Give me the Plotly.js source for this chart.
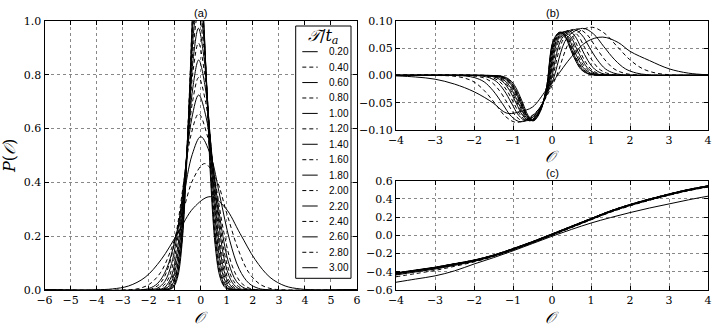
<!DOCTYPE html>
<html><head><meta charset="utf-8">
<script src="https://cdn.plot.ly/plotly-3.0.1.min.js"></script>
<style>html,body{margin:0;padding:0;background:#fff}#chart{width:720px;height:330px}</style>
</head><body><div id="chart"></div>
<script>
// ---- legend labels (T / t_a) ----
const tLabels = ['0.20','0.40','0.60','0.80','1.00','1.20','1.40','1.60','1.80','2.00','2.20','2.40','2.60','2.80','3.00'];

// ---- panel (a): P(O) ----
const aX_020=[-6,-4.02,-3.39,-2.77,-2.14,-1.52,-0.89,-0.27,0.36,0.94,1.51,2.09,2.66,3.24,3.81,4.39,6];
const aY_020=[0,0.001,0.004,0.015,0.047,0.113,0.210,0.306,0.347,0.306,0.210,0.113,0.047,0.015,0.004,0.001,0];
const aX_040=[-6,-2.83,-2.40,-1.98,-1.55,-1.13,-0.70,-0.28,0.15,0.58,1.00,1.43,1.85,2.28,2.70,3.13,6];
const aY_040=[0,0.001,0.005,0.021,0.064,0.153,0.285,0.415,0.470,0.415,0.285,0.153,0.064,0.021,0.005,0.001,0];
const aX_060=[-6,-2.31,-1.98,-1.65,-1.32,-0.99,-0.66,-0.33,0,0.37,0.74,1.11,1.48,1.85,2.22,2.59,6];
const aY_060=[0,0.001,0.006,0.025,0.077,0.185,0.346,0.503,0.570,0.503,0.346,0.185,0.077,0.025,0.006,0.001,0];
const aX_080=[-6,-2.09,-1.81,-1.52,-1.23,-0.94,-0.66,-0.37,-0.08,0.24,0.57,0.89,1.21,1.53,1.86,2.18,6];
const aY_080=[0,0.001,0.007,0.029,0.089,0.213,0.397,0.578,0.655,0.578,0.397,0.213,0.089,0.029,0.007,0.001,0];
const aX_100=[-6,-1.90,-1.64,-1.38,-1.12,-0.86,-0.60,-0.34,-0.08,0.21,0.50,0.79,1.08,1.37,1.66,1.95,6];
const aY_100=[0,0.002,0.008,0.032,0.098,0.235,0.440,0.640,0.725,0.640,0.440,0.235,0.098,0.032,0.008,0.002,0];
const aX_120=[-6,-1.76,-1.52,-1.28,-1.04,-0.80,-0.56,-0.32,-0.08,0.19,0.45,0.72,0.98,1.25,1.51,1.78,6];
const aY_120=[0,0.002,0.009,0.035,0.107,0.257,0.479,0.697,0.790,0.697,0.479,0.257,0.107,0.035,0.009,0.002,0];
const aX_140=[-6,-1.62,-1.40,-1.18,-0.96,-0.74,-0.52,-0.30,-0.08,0.17,0.41,0.66,0.90,1.15,1.39,1.64,6];
const aY_140=[0,0.002,0.009,0.038,0.116,0.278,0.519,0.755,0.855,0.755,0.519,0.278,0.116,0.038,0.009,0.002,0];
const aX_160=[-6,-1.53,-1.32,-1.12,-0.91,-0.71,-0.50,-0.30,-0.09,0.14,0.37,0.60,0.83,1.06,1.29,1.52,6];
const aY_160=[0,0.002,0.010,0.040,0.124,0.298,0.557,0.810,0.918,0.810,0.557,0.298,0.124,0.040,0.010,0.002,0];
const aX_180=[-6,-1.46,-1.26,-1.07,-0.87,-0.68,-0.48,-0.29,-0.09,0.13,0.34,0.56,0.77,0.99,1.20,1.42,6];
const aY_180=[0,0.002,0.011,0.043,0.132,0.316,0.590,0.859,0.973,0.859,0.590,0.316,0.132,0.043,0.011,0.002,0];
const aX_200=[-6,-1.38,-1.20,-1.01,-0.83,-0.65,-0.47,-0.28,-0.10,0.11,0.31,0.52,0.72,0.93,1.13,1.34,6];
const aY_200=[0,0.002,0.011,0.045,0.139,0.334,0.625,0.909,1.030,0.909,0.625,0.334,0.139,0.045,0.011,0.002,0];
const aX_220=[-6,-1.33,-1.15,-0.98,-0.80,-0.63,-0.45,-0.28,-0.10,0.10,0.29,0.49,0.68,0.88,1.07,1.27,6];
const aY_220=[0,0.002,0.012,0.047,0.146,0.351,0.655,0.953,1.080,0.953,0.655,0.351,0.146,0.047,0.012,0.002,0];
const aX_240=[-6,-1.28,-1.12,-0.95,-0.78,-0.61,-0.45,-0.28,-0.11,0.08,0.26,0.45,0.63,0.82,1.00,1.19,6];
const aY_240=[0,0.002,0.013,0.050,0.153,0.367,0.685,0.997,1.130,0.997,0.685,0.367,0.153,0.050,0.013,0.002,0];
const aX_260=[-6,-1.23,-1.07,-0.91,-0.75,-0.59,-0.43,-0.27,-0.11,0.07,0.25,0.42,0.60,0.78,0.96,1.13,6];
const aY_260=[0,0.003,0.013,0.052,0.160,0.383,0.716,1.041,1.180,1.041,0.716,0.383,0.160,0.052,0.013,0.003,0];
const aX_280=[-6,-1.21,-1.05,-0.90,-0.74,-0.59,-0.43,-0.28,-0.12,0.05,0.23,0.40,0.57,0.74,0.92,1.09,6];
const aY_280=[0,0.003,0.014,0.054,0.165,0.396,0.740,1.077,1.220,1.077,0.740,0.396,0.165,0.054,0.014,0.003,0];
const aX_300=[-6,-1.17,-1.02,-0.87,-0.72,-0.57,-0.42,-0.27,-0.12,0.05,0.22,0.38,0.55,0.72,0.89,1.05,6];
const aY_300=[0,0.003,0.014,0.055,0.170,0.409,0.764,1.112,1.260,1.112,0.764,0.409,0.170,0.055,0.014,0.003,0];

// ---- panel (b) ----
const bX_020=[-4,-3.5,-3,-2.5,-2,-1.5,-1.25,-1.1,-0.8,-0.5,-0.15,0.1,0.5,0.9,1.3,1.7,2.0,2.5,3.0,3.5,4];
const bY_020=[-0.001,-0.003,-0.007,-0.016,-0.030,-0.051,-0.066,-0.070,-0.066,-0.058,-0.027,-0.004,0.034,0.062,0.070,0.060,0.044,0.027,0.012,0.004,0.001];
const bX_040=[-4,-2.83,-2.55,-2.28,-2.00,-1.73,-1.45,-1.18,-0.90,-0.43,0.05,0.53,1.00,1.33,1.66,1.99,2.32,2.65,2.98,3.31,4];
const bY_040=[0,-0.0004,-0.0013,-0.0043,-0.012,-0.0284,-0.0525,-0.0761,-0.086,-0.0688,-0.012,0.0704,0.088,0.0779,0.0537,0.029,0.0123,0.0044,0.0013,0.0004,0];
const bX_060=[-4,-2.45,-2.21,-1.98,-1.74,-1.51,-1.27,-1.04,-0.80,-0.41,-0.01,0.39,0.78,1.06,1.33,1.61,1.88,2.16,2.43,2.71,4];
const bY_060=[0,-0.0004,-0.0013,-0.0043,-0.0119,-0.0281,-0.0519,-0.0752,-0.085,-0.068,-0.015,0.0688,0.086,0.0761,0.0525,0.0284,0.012,0.0043,0.0013,0.0004,0];
const bX_080=[-4,-2.19,-1.98,-1.77,-1.56,-1.35,-1.14,-0.93,-0.72,-0.38,-0.04,0.31,0.65,0.89,1.12,1.36,1.59,1.83,2.06,2.30,4];
const bY_080=[0,-0.0004,-0.0013,-0.0042,-0.0118,-0.0277,-0.0512,-0.0743,-0.084,-0.0672,-0.016,0.068,0.085,0.0752,0.0519,0.0281,0.0119,0.0043,0.0013,0.0004,0];
const bX_100=[-4,-1.99,-1.80,-1.61,-1.42,-1.23,-1.04,-0.85,-0.66,-0.36,-0.06,0.25,0.55,0.76,0.96,1.17,1.37,1.58,1.78,1.99,4];
const bY_100=[0,-0.0004,-0.0012,-0.0042,-0.0116,-0.0274,-0.0506,-0.0735,-0.083,-0.0664,-0.017,0.0672,0.084,0.0743,0.0512,0.0277,0.0118,0.0042,0.0013,0.0004,0];
const bX_120=[-4,-1.88,-1.70,-1.52,-1.34,-1.16,-0.98,-0.80,-0.62,-0.35,-0.08,0.20,0.47,0.66,0.84,1.03,1.21,1.40,1.58,1.77,4];
const bY_120=[0,-0.0004,-0.0012,-0.0042,-0.0116,-0.0274,-0.0506,-0.0735,-0.083,-0.0664,-0.018,0.0664,0.083,0.0735,0.0506,0.0274,0.0116,0.0042,0.0012,0.0004,0];
const bX_140=[-4,-1.77,-1.60,-1.43,-1.26,-1.09,-0.92,-0.75,-0.58,-0.33,-0.09,0.16,0.41,0.58,0.75,0.92,1.09,1.26,1.43,1.60,4];
const bY_140=[0,-0.0004,-0.0012,-0.0042,-0.0116,-0.0274,-0.0506,-0.0735,-0.083,-0.0664,-0.019,0.0656,0.082,0.0726,0.050,0.0271,0.0115,0.0041,0.0012,0.0004,0];
const bX_160=[-4,-1.72,-1.55,-1.39,-1.22,-1.06,-0.89,-0.73,-0.56,-0.33,-0.10,0.13,0.36,0.52,0.68,0.84,1.00,1.16,1.32,1.48,4];
const bY_160=[0,-0.0004,-0.0012,-0.0042,-0.0116,-0.0274,-0.0506,-0.0735,-0.083,-0.0664,-0.020,0.0648,0.081,0.0717,0.0494,0.0267,0.0113,0.0041,0.0012,0.0004,0];
const bX_180=[-4,-1.66,-1.50,-1.34,-1.18,-1.02,-0.86,-0.70,-0.54,-0.33,-0.11,0.11,0.32,0.48,0.63,0.79,0.94,1.10,1.25,1.41,4];
const bY_180=[0,-0.0004,-0.0012,-0.0042,-0.0116,-0.0274,-0.0506,-0.0735,-0.083,-0.0664,-0.020,0.064,0.080,0.0708,0.0488,0.0264,0.0112,0.004,0.0012,0.0004,0];
const bX_200=[-4,-1.61,-1.45,-1.30,-1.14,-0.99,-0.83,-0.68,-0.52,-0.32,-0.12,0.09,0.29,0.44,0.59,0.74,0.89,1.04,1.19,1.34,4];
const bY_200=[0,-0.0004,-0.0012,-0.0042,-0.0116,-0.0274,-0.0506,-0.0735,-0.083,-0.0664,-0.021,0.064,0.080,0.0708,0.0488,0.0264,0.0112,0.004,0.0012,0.0004,0];
const bX_220=[-4,-1.56,-1.41,-1.26,-1.11,-0.96,-0.81,-0.66,-0.51,-0.32,-0.13,0.07,0.26,0.41,0.55,0.70,0.84,0.99,1.13,1.28,4];
const bY_220=[0,-0.0004,-0.0012,-0.0042,-0.0116,-0.0274,-0.0506,-0.0735,-0.083,-0.0664,-0.021,0.0632,0.079,0.0699,0.0482,0.0261,0.0111,0.004,0.0012,0.0004,0];
const bX_240=[-4,-1.55,-1.40,-1.25,-1.10,-0.95,-0.80,-0.65,-0.50,-0.32,-0.13,0.06,0.24,0.38,0.52,0.66,0.80,0.94,1.08,1.22,4];
const bY_240=[0,-0.0004,-0.0012,-0.0042,-0.0116,-0.0274,-0.0506,-0.0735,-0.083,-0.0664,-0.022,0.0632,0.079,0.0699,0.0482,0.0261,0.0111,0.004,0.0012,0.0004,0];
const bX_260=[-4,-1.51,-1.36,-1.22,-1.07,-0.93,-0.78,-0.64,-0.49,-0.31,-0.14,0.04,0.22,0.36,0.50,0.64,0.78,0.92,1.06,1.20,4];
const bY_260=[0,-0.0004,-0.0012,-0.0042,-0.0116,-0.0274,-0.0506,-0.0735,-0.083,-0.0664,-0.022,0.0632,0.079,0.0699,0.0482,0.0261,0.0111,0.004,0.0012,0.0004,0];
const bX_280=[-4,-1.50,-1.35,-1.21,-1.06,-0.92,-0.77,-0.63,-0.48,-0.31,-0.14,0.04,0.21,0.35,0.48,0.62,0.75,0.89,1.02,1.16,4];
const bY_280=[0,-0.0004,-0.0012,-0.0042,-0.0116,-0.0274,-0.0506,-0.0735,-0.083,-0.0664,-0.022,0.0632,0.079,0.0699,0.0482,0.0261,0.0111,0.004,0.0012,0.0004,0];
const bX_300=[-4,-1.45,-1.31,-1.17,-1.03,-0.89,-0.75,-0.61,-0.47,-0.30,-0.14,0.03,0.20,0.34,0.47,0.61,0.74,0.88,1.01,1.15,4];
const bY_300=[0,-0.0004,-0.0012,-0.0042,-0.0116,-0.0274,-0.0506,-0.0735,-0.083,-0.0664,-0.022,0.0632,0.079,0.0699,0.0482,0.0261,0.0111,0.004,0.0012,0.0004,0];

// ---- panel (c) ----
const cX=[-4,-3.5,-3,-2.5,-2,-1.5,-1,-0.5,0,0.5,1,1.5,2,2.5,3,3.5,4];
const cY_020=[-0.515,-0.480,-0.445,-0.390,-0.315,-0.245,-0.170,-0.090,-0.010,0.065,0.135,0.195,0.250,0.300,0.345,0.390,0.430];
const cY_040=[-0.455,-0.420,-0.385,-0.340,-0.292,-0.232,-0.160,-0.082,0.000,0.085,0.170,0.253,0.323,0.385,0.440,0.490,0.530];
const cY_060=[-0.435,-0.402,-0.370,-0.330,-0.286,-0.229,-0.158,-0.080,0.003,0.088,0.173,0.257,0.328,0.388,0.443,0.493,0.533];
const cY_080=[-0.427,-0.396,-0.365,-0.325,-0.283,-0.227,-0.156,-0.079,0.005,0.090,0.175,0.259,0.329,0.389,0.444,0.494,0.534];
const cY_100=[-0.424,-0.393,-0.362,-0.322,-0.281,-0.226,-0.155,-0.078,0.006,0.091,0.176,0.260,0.330,0.390,0.445,0.495,0.535];
const cY_120=[-0.422,-0.391,-0.360,-0.320,-0.280,-0.225,-0.154,-0.077,0.007,0.092,0.177,0.261,0.331,0.391,0.446,0.496,0.536];
const cY_140=[-0.420,-0.389,-0.358,-0.319,-0.279,-0.224,-0.153,-0.076,0.008,0.093,0.178,0.262,0.332,0.392,0.447,0.497,0.537];
const cY_160=[-0.419,-0.388,-0.357,-0.318,-0.278,-0.223,-0.152,-0.075,0.009,0.094,0.179,0.263,0.333,0.393,0.448,0.498,0.538];
const cY_180=[-0.418,-0.387,-0.356,-0.317,-0.277,-0.222,-0.151,-0.074,0.010,0.095,0.180,0.264,0.334,0.394,0.449,0.499,0.539];
const cY_200=[-0.417,-0.386,-0.355,-0.316,-0.276,-0.221,-0.150,-0.073,0.011,0.096,0.181,0.265,0.335,0.395,0.450,0.500,0.540];
const cY_220=[-0.416,-0.385,-0.354,-0.315,-0.275,-0.220,-0.149,-0.072,0.012,0.097,0.182,0.266,0.336,0.396,0.451,0.501,0.541];
const cY_240=[-0.415,-0.384,-0.353,-0.314,-0.274,-0.219,-0.148,-0.071,0.013,0.098,0.183,0.267,0.337,0.397,0.452,0.502,0.542];
const cY_260=[-0.414,-0.383,-0.352,-0.313,-0.273,-0.218,-0.147,-0.070,0.014,0.099,0.184,0.268,0.338,0.398,0.453,0.503,0.543];
const cY_280=[-0.413,-0.382,-0.351,-0.312,-0.272,-0.217,-0.146,-0.069,0.015,0.100,0.185,0.269,0.339,0.399,0.454,0.504,0.544];
const cY_300=[-0.412,-0.381,-0.350,-0.311,-0.271,-0.216,-0.145,-0.068,0.016,0.101,0.185,0.269,0.339,0.399,0.454,0.504,0.544];

const aXs=[aX_020,aX_040,aX_060,aX_080,aX_100,aX_120,aX_140,aX_160,aX_180,aX_200,aX_220,aX_240,aX_260,aX_280,aX_300];
const aYs=[aY_020,aY_040,aY_060,aY_080,aY_100,aY_120,aY_140,aY_160,aY_180,aY_200,aY_220,aY_240,aY_260,aY_280,aY_300];
const bXs=[bX_020,bX_040,bX_060,bX_080,bX_100,bX_120,bX_140,bX_160,bX_180,bX_200,bX_220,bX_240,bX_260,bX_280,bX_300];
const bYs=[bY_020,bY_040,bY_060,bY_080,bY_100,bY_120,bY_140,bY_160,bY_180,bY_200,bY_220,bY_240,bY_260,bY_280,bY_300];
const cYs=[cY_020,cY_040,cY_060,cY_080,cY_100,cY_120,cY_140,cY_160,cY_180,cY_200,cY_220,cY_240,cY_260,cY_280,cY_300];

const W=720,H=330;
const px=v=>v/W, py=v=>1-v/H;
const DASH='4px,3px';
const dashOf=i=>(i%2===1?DASH:'solid');

const traces=[];
tLabels.forEach((lab,i)=>{
  const line={color:'#000',width:1,dash:dashOf(i),shape:'spline',smoothing:1};
  traces.push({x:aXs[i],y:aYs[i],xaxis:'x',yaxis:'y',mode:'lines',name:lab,line:line,showlegend:false,hoverinfo:'skip'});
  traces.push({x:bXs[i],y:bYs[i],xaxis:'x2',yaxis:'y2',mode:'lines',name:lab,line:line,showlegend:false,hoverinfo:'skip'});
  traces.push({x:cX,y:cYs[i],xaxis:'x3',yaxis:'y3',mode:'lines',name:lab,line:line,showlegend:false,hoverinfo:'skip'});
});

const serif='DejaVu Serif';
const sans='Liberation Sans';
const ax={showline:true,linecolor:'#000',linewidth:1,mirror:'ticks',ticks:'inside',ticklen:4,tickcolor:'#000',
  showgrid:true,gridcolor:'#888',griddash:'dot',gridwidth:1,zeroline:false,
  tickfont:{family:serif,size:11,color:'#000'}};

const layout={
  width:W,height:H,autosize:false,margin:{l:0,r:0,t:0,b:0},
  paper_bgcolor:'#fff',plot_bgcolor:'#fff',showlegend:false,
  xaxis:Object.assign({},ax,{domain:[px(44.5),px(357)],range:[-6,6],dtick:1,tick0:0,anchor:'y'}),
  yaxis:Object.assign({},ax,{domain:[py(290),py(21)],range:[0,1],dtick:0.2,tick0:0,tickformat:'.1f',anchor:'x',
    title:{text:'<i>P</i>(<i>𝒪</i>)',font:{family:serif,size:16,color:'#000'},standoff:6}}),
  xaxis2:Object.assign({},ax,{domain:[px(396),px(708)],range:[-4,4],dtick:1,tick0:0,anchor:'y2'}),
  yaxis2:Object.assign({},ax,{domain:[py(130),py(20.7)],range:[-0.1,0.1],dtick:0.05,tick0:0,tickformat:'.2f',anchor:'x2'}),
  xaxis3:Object.assign({},ax,{domain:[px(396),px(708)],range:[-4,4],dtick:1,tick0:0,anchor:'y3'}),
  yaxis3:Object.assign({},ax,{domain:[py(290),py(180.7)],range:[-0.6,0.6],dtick:0.2,tick0:0,tickformat:'.1f',anchor:'x3'}),
  shapes:[],annotations:[]
};

// x-axis titles (placed as annotations for exact positioning, top-anchored below tick labels)
[[200.7,307],[552,146],[552,307]].forEach(([x,y])=>{
  layout.annotations.push({text:'<i>𝒪</i>',xref:'paper',yref:'paper',x:px(x),y:py(y),xanchor:'center',yanchor:'top',
    borderpad:0,showarrow:false,font:{family:serif,size:16,color:'#000'}});
});

// panel titles
[['(a)',200.7,13],['(b)',552,13],['(c)',552,173]].forEach(([t,x,y])=>{
  layout.annotations.push({text:t,xref:'paper',yref:'paper',x:px(x),y:py(y),xanchor:'center',yanchor:'middle',
    showarrow:false,font:{family:sans,size:11,color:'#000'}});
});

// custom legend (inside panel a)
layout.shapes.push({type:'rect',xref:'paper',yref:'paper',x0:px(295.7),x1:px(351),y0:py(278.3),y1:py(26),
  line:{color:'#000',width:1},fillcolor:'#fff',layer:'above'});
layout.annotations.push({text:'<i>𝒯</i>/<i>t</i><sub><i>a</i></sub>',xref:'paper',yref:'paper',x:px(323),y:py(36),
  xanchor:'center',yanchor:'middle',showarrow:false,font:{family:serif,size:16,color:'#000'}});
tLabels.forEach((lab,i)=>{
  const yy=51.7+i*15.43;
  layout.shapes.push({type:'line',xref:'paper',yref:'paper',x0:px(302.3),x1:px(317.7),y0:py(yy),y1:py(yy),
    line:{color:'#000',width:1,dash:dashOf(i)},layer:'above'});
  layout.annotations.push({text:lab,xref:'paper',yref:'paper',x:px(326.5),y:py(yy),xanchor:'left',yanchor:'middle',
    showarrow:false,font:{family:sans,size:10,color:'#000'}});
});

Plotly.newPlot('chart',traces,layout,{staticPlot:true,displayModeBar:false});
</script></body></html>
